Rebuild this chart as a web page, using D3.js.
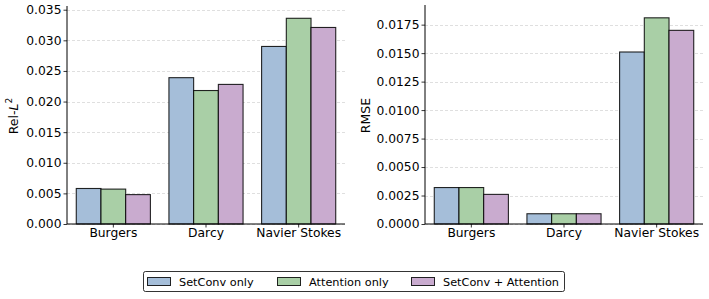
<!DOCTYPE html>
<html>
<head>
<meta charset="utf-8">
<script src="https://cdn.jsdelivr.net/npm/d3@7"></script>
<style>
  body { margin: 0; background: #fff; }
  svg { font-family: "DejaVu Sans", sans-serif; }
</style>
</head>
<body>
<svg id="chart" width="709" height="299"></svg>
<script>
// data
const categories = ['Burgers', 'Darcy', 'Navier Stokes'];
const seriesNames = ['SetConv only', 'Attention only', 'SetConv + Attention'];
const seriesColors = ['#a5bed9', '#a9cfa6', '#c9abcf'];

const relL2SetConv = [0.0058, 0.0239, 0.0290];
const relL2Attention = [0.0057, 0.0218, 0.0336];
const relL2Both = [0.0048, 0.0228, 0.0321];

const rmseSetConv = [0.0032, 0.0009, 0.0151];
const rmseAttention = [0.0032, 0.0009, 0.0181];
const rmseBoth = [0.0026, 0.0009, 0.0170];

const relL2Ticks = [0, 0.005, 0.010, 0.015, 0.020, 0.025, 0.030, 0.035];
const rmseTicks = [0, 0.0025, 0.0050, 0.0075, 0.0100, 0.0125, 0.0150, 0.0175];

const svg = d3.select('#chart');

function drawPanel(opts) {
  const { left, right, top, bottom, series, ticks, fmt, ymax, labelX, label } = opts;
  const g = svg.append('g');

  const x = d3.scaleBand()
    .domain(categories)
    .range([left, right])
    .paddingInner(0.2)
    .paddingOuter(0.1);

  const xs = d3.scaleBand()
    .domain(d3.range(series.length))
    .range([0, x.bandwidth()])
    .padding(0);

  const y = d3.scaleLinear()
    .domain([0, ymax])
    .range([bottom, top]);

  // grid
  g.append('g')
    .selectAll('line')
    .data(ticks)
    .enter()
    .append('line')
    .attr('x1', left)
    .attr('x2', right)
    .attr('y1', d => Math.round(y(d)) + 0.5)
    .attr('y2', d => Math.round(y(d)) + 0.5)
    .attr('stroke', '#b0b0b0')
    .attr('stroke-opacity', 0.5)
    .attr('stroke-width', 0.8)
    .attr('stroke-dasharray', '3,2');

  // bars
  series.forEach((vals, si) => {
    g.append('g')
      .selectAll('rect')
      .data(vals)
      .enter()
      .append('rect')
      .attr('x', (d, i) => x(categories[i]) + xs(si))
      .attr('width', xs.bandwidth())
      .attr('y', d => y(d))
      .attr('height', d => y(0) - y(d))
      .attr('fill', seriesColors[si])
      .attr('stroke', '#000')
      .attr('stroke-opacity', 0.85)
      .attr('stroke-width', 1.1);
  });

  // axes
  const yAxis = g.append('g')
    .attr('transform', `translate(${left},0)`)
    .call(d3.axisLeft(y).tickValues(ticks).tickFormat(fmt).tickSize(3.5).tickPadding(2));
  yAxis.select('.domain').attr('d', `M0,${bottom}V${top - 2}`);

  const xAxis = g.append('g')
    .attr('transform', `translate(0,${bottom})`)
    .call(d3.axisBottom(x).tickSize(3.5).tickPadding(1));
  xAxis.select('.domain').attr('d', `M${left},0H${right}`);

  g.selectAll('.tick text')
    .style('font-size', '12.3px')
    .attr('fill', '#000')
    .style('font-family', '"DejaVu Sans", sans-serif');
  g.selectAll('.domain').attr('stroke', '#000').attr('stroke-width', 1);
  g.selectAll('.tick line').attr('stroke', '#000').attr('stroke-width', 0.8);

  // y label
  const lab = g.append('text')
    .attr('transform', `translate(${labelX},${(top + bottom) / 2}) rotate(-90)`)
    .attr('text-anchor', 'middle')
    .style('font-size', '12.5px');
  label(lab);
}

drawPanel({
  left: 67, right: 345, top: 8, bottom: 224, labelX: 18,
  series: [relL2SetConv, relL2Attention, relL2Both],
  ticks: relL2Ticks,
  fmt: d3.format('.3f'),
  ymax: 0.03528,
  label: t => {
    t.append('tspan').text('Rel-');
    t.append('tspan').attr('font-style', 'italic').text('L');
    t.append('tspan').style('font-size', '9px').attr('dy', -6).text('2');
  }
});

drawPanel({
  left: 425, right: 703, top: 7, bottom: 224, labelX: 370,
  series: [rmseSetConv, rmseAttention, rmseBoth],
  ticks: rmseTicks,
  fmt: d3.format('.4f'),
  ymax: 0.01905,
  label: t => t.text('RMSE')
});

// legend
const legend = svg.append('g');
legend.append('rect')
  .attr('x', 143.5).attr('y', 271.5)
  .attr('width', 421).attr('height', 20)
  .attr('rx', 2)
  .attr('fill', '#fff')
  .attr('stroke', '#000')
  .attr('stroke-width', 0.8);

const legendX = [147, 277, 411];
seriesNames.forEach((name, i) => {
  legend.append('rect')
    .attr('x', legendX[i] + 0.5).attr('y', 277.5)
    .attr('width', 23).attr('height', 8)
    .attr('fill', seriesColors[i])
    .attr('stroke', '#000')
    .attr('stroke-opacity', 0.85)
    .attr('stroke-width', 1);
  legend.append('text')
    .attr('x', legendX[i] + 32)
    .attr('y', 286)
    .style('font-size', '11.3px')
    .text(name);
});
</script>
</body>
</html>
